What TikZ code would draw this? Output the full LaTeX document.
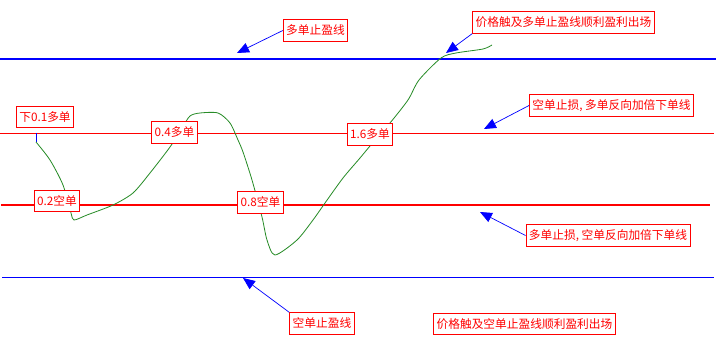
\documentclass[tikz,border=0pt]{standalone}
\usepackage{fontspec}
\usepackage{tikz}
\usetikzlibrary{arrows.meta, positioning}
\newfontfamily\cjk{Noto Sans CJK SC}
\definecolor{pureblue}{RGB}{0, 0, 255}
\definecolor{purered}{RGB}{255, 0, 0}
\definecolor{pricegreen}{RGB}{40, 140, 40}

\begin{document}
\begin{tikzpicture}[
    x=0.03cm, y=-0.03cm,
    tag/.style={draw=purered, fill=white, text=purered, line width=0.8pt, minimum height=0.64cm, inner xsep=2.5pt, font=\cjk\fontsize{10}{12}\selectfont},
    level/.style={line width=0.65pt},
    price/.style={pricegreen, line width=0.7pt, smooth, tension=0.45},
    arrow/.style={-{Triangle[length=3.6mm, width=3mm]}, pureblue, line width=0.6pt}
]
\useasboundingbox (0,0) rectangle (716,342);

% Levels
\draw[level, pureblue, line width=0.9pt] (0,59) -- (716,59);
\draw[level, purered] (0,133) -- (714,133);
\draw[level, purered, line width=0.9pt] (1,205) -- (710,205);
\draw[level, pureblue] (2,277) -- (714,277);

% Price path
\draw[pureblue, line width=0.65pt] (36,133) -- (36,142);
\draw[price] plot coordinates {(36,142) (50,160) (63,185) (71,213) (74,220) (87,215) (113,205) (133,193) (150,173) (170,147) (182,128) (190,116) (200,113) (218,113) (230,123) (238,140) (243,152) (252,180) (262,217) (267,240) (275,255) (297,240) (313,220) (325,203) (343,178) (360,158) (375,140) (390,123) (408,100) (419,80) (441,58) (456,53) (483,49) (492,45)};

% Orders
\node[tag] (long01) at (45,117) {下0.1多单};
\node[tag] (long04) at (174.5,132.5) {0.4多单};
\node[tag] (long16) at (370,134.5) {1.6多单};
\node[tag] (short02) at (57,201) {0.2空单};
\node[tag] (short08) at (260.5,202.5) {0.8空单};

% Notes
\node[tag] (tplong) at (315.5,30.5) {多单止盈线};
\node[tag] (exitlong) at (563.5,22.5) {价格触及多单止盈线顺利盈利出场};
\node[tag] (stopshort) at (611.5,105.5) {空单止损, 多单反向加倍下单线};
\node[tag] (stoplong) at (608,235.5) {多单止损, 空单反向加倍下单线};
\node[tag] (tpshort) at (322,323.5) {空单止盈线};
\node[tag] (exitshort) at (524.5,324) {价格触及空单止盈线顺利盈利出场};

% Arrow tips
\coordinate (tplongtip) at (237,53);
\coordinate (exitlongtip) at (446,53);
\coordinate (stopshorttip) at (484,129);
\coordinate (stoplongtip) at (480,212);
\coordinate (tpshorttip) at (243,278);

% Arrows
\draw[arrow] (tplong.west) -- (tplongtip);
\draw[arrow] (exitlong.south west) -- (exitlongtip);
\draw[arrow] (stopshort.west) -- (stopshorttip);
\draw[arrow] (stoplong.west) -- (stoplongtip);
\draw[arrow] (tpshort.north west) -- (tpshorttip);

\end{tikzpicture}
\end{document}
